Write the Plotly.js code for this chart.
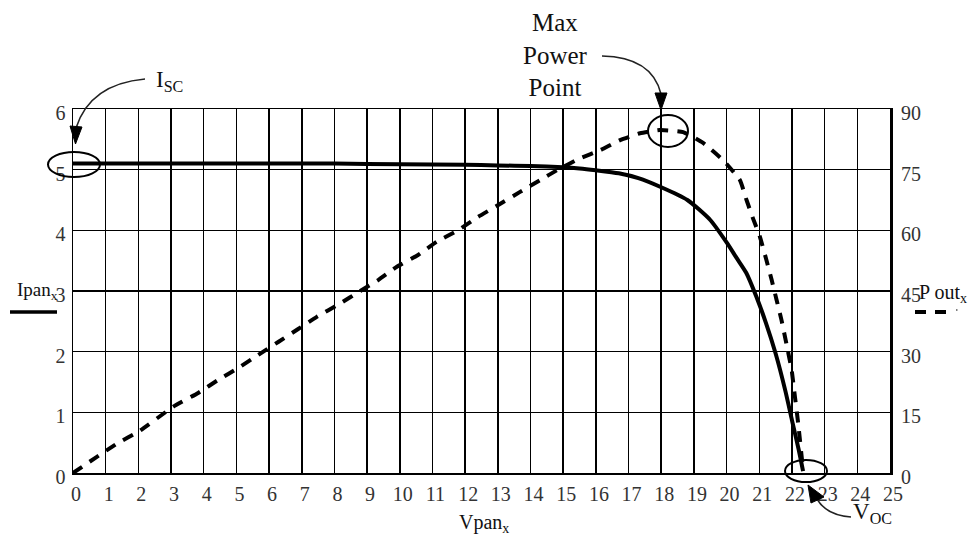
<!DOCTYPE html>
<html>
<head>
<meta charset="utf-8">
<script src="https://cdn.plot.ly/plotly-3.0.1.min.js"></script>
<style>html,body{margin:0;padding:0;background:#fff;}#chart{width:974px;height:541px;}</style>
</head>
<body>
<div id="chart"></div>
<script>
// Panel current (A) vs panel voltage (V)
const ipanV = [0, 2, 4, 6, 8, 10, 12, 13, 14, 15, 15.5, 16, 16.7, 17.3, 18, 18.8, 19.5, 20, 20.3, 20.6, 20.9, 21.2, 21.5, 21.8, 22.0, 22.2, 22.34];
const ipanI = [5.1, 5.1, 5.1, 5.1, 5.1, 5.09, 5.08, 5.07, 5.06, 5.04, 5.02, 4.99, 4.94, 4.86, 4.71, 4.5, 4.17, 3.8, 3.55, 3.3, 2.92, 2.48, 1.97, 1.35, 0.87, 0.4, 0.03];

// Panel output power (W) vs panel voltage (V)
const poutV = [0, 0.73, 1.35, 2.0, 3.07, 3.83, 4.44, 5.06, 5.67, 6.28, 6.89, 7.46, 8.17, 8.79, 9.34, 9.91, 10.56, 11.13, 11.78, 12.39, 13.0, 13.68, 14.29, 14.84, 15.51, 16.13, 16.74, 17.35, 17.96, 18.67, 19.28, 19.9, 20.41, 20.61, 20.81, 21.02, 21.22, 21.38, 21.53, 21.68, 21.83, 21.99, 22.09, 22.19, 22.34];
const poutP = [0, 4.0, 7.3, 10.2, 16.4, 19.8, 23.0, 26, 29.2, 32.4, 35.6, 38.6, 41.9, 45, 47.7, 51, 53.9, 57.2, 60, 63.3, 66.2, 69.5, 72.4, 75, 77.8, 79.8, 82.3, 84, 84.8, 84.3, 81.6, 77.3, 72.4, 67.5, 62.9, 58.4, 52.6, 47.7, 42.8, 37.8, 32, 25.5, 18.9, 12.3, 0.7];

// Axis ticks
const xTicks = [0,1,2,3,4,5,6,7,8,9,10,11,12,13,14,15,16,17,18,19,20,21,22,23,24,25];
const yTicks = [0,1,2,3,4,5,6];
const y2Ticks = [0,15,30,45,60,75,90];

// ---- layout helpers (pixel -> paper coordinates for decorations) ----
const PL = 73, PR = 890, PT = 109, PB = 473;
const px = x => (x - PL) / (PR - PL);
const py = y => (PB - y) / (PB - PT);
const pt = (x, y) => px(x).toFixed(5) + ',' + py(y).toFixed(5);

const serif = 'Liberation Serif';

const traces = [
  {x: ipanV, y: ipanI, type: 'scatter', mode: 'lines', yaxis: 'y',
   line: {color: '#000', width: 4, shape: 'spline', smoothing: 0.6}, name: 'Ipan', hoverinfo: 'skip'},
  {x: poutV, y: poutP, type: 'scatter', mode: 'lines', yaxis: 'y2',
   line: {color: '#000', width: 4, dash: '11px,9px', shape: 'spline', smoothing: 0.4}, name: 'Pout', hoverinfo: 'skip'}
];

function ellipse(cx, cy, rx, ry) {
  return {type: 'circle', xref: 'paper', yref: 'paper',
    x0: px(cx - rx), x1: px(cx + rx), y0: py(cy + ry), y1: py(cy - ry),
    line: {color: '#000', width: 2}};
}
function path(d, opts) {
  return Object.assign({type: 'path', xref: 'paper', yref: 'paper', path: d,
    line: {color: '#222', width: 1.6}}, opts || {});
}
function tri(a, b, c) {
  return path('M' + pt(a[0], a[1]) + ' L' + pt(b[0], b[1]) + ' L' + pt(c[0], c[1]) + ' Z',
    {fillcolor: '#000', line: {color: '#000', width: 1}});
}

const shapes = [
  ellipse(74, 164.5, 26, 12.5),
  ellipse(668, 131, 20, 16),
  ellipse(806, 471, 21, 11),
  // Isc arrow
  path('M' + pt(145, 79) + ' Q' + pt(90, 84) + ' ' + pt(76, 128)),
  tri([75.5, 144], [70, 126], [82, 127]),
  // MPP arrow
  path('M' + pt(602, 56) + ' Q' + pt(652, 57) + ' ' + pt(661, 94)),
  tri([661, 110], [655, 93], [667, 93]),
  // Voc arrow
  path('M' + pt(851, 517) + ' Q' + pt(826, 515) + ' ' + pt(817, 499)),
  tri([808, 485], [811, 503], [824, 497]),
  // legend marks
  {type: 'line', xref: 'paper', yref: 'paper', x0: px(10), x1: px(57), y0: py(312), y1: py(312),
   line: {color: '#000', width: 3.5}},
  {type: 'line', xref: 'paper', yref: 'paper', x0: px(915), x1: px(947), y0: py(312), y1: py(312),
   line: {color: '#000', width: 4, dash: '11px,9px'}},
  {type: 'line', xref: 'paper', yref: 'paper', x0: px(956), x1: px(957.5), y0: py(310), y1: py(310),
   line: {color: '#555', width: 1.5}}
];

function note(text, x, y, size, xanchor) {
  return {text: text, xref: 'paper', yref: 'paper', x: px(x), y: py(y),
    xanchor: xanchor || 'center', yanchor: 'middle', showarrow: false,
    font: {family: serif, size: size, color: '#111'}};
}

const annotations = [
  note('I<sub>SC</sub>', 154, 81, 23, 'left'),
  note('Max<br>Power<br>Point', 555, 55, 25, 'center'),
  note('V<sub>OC</sub>', 851, 513, 23, 'left'),
  note('Vpan<sub>x</sub>', 484, 523, 20, 'center'),
  note('Ipan<sub>x</sub>', 15, 291, 19, 'left'),
  note('P out<sub>x</sub>', 917, 293, 20, 'left')
];

const tickfont = {family: serif, size: 20, color: '#333'};

const layout = {
  width: 974, height: 541,
  margin: {l: PL, r: 974 - PR, t: PT, b: 541 - PB, pad: 0},
  paper_bgcolor: '#fff', plot_bgcolor: '#fff',
  showlegend: false,
  xaxis: {range: [0, 25], tickvals: xTicks, ticktext: xTicks.map(String),
    showgrid: true, gridcolor: '#000', gridwidth: 1.5,
    showline: true, linecolor: '#000', linewidth: 1.5, mirror: true,
    zeroline: false, ticks: '', tickfont: tickfont,
    ticklabelshift: 3, ticklabelstandoff: 2, fixedrange: true},
  yaxis: {range: [0, 6], tickvals: yTicks, ticktext: yTicks.map(String),
    showgrid: true, gridcolor: '#000', gridwidth: 1.5,
    showline: true, linecolor: '#000', linewidth: 1.5,
    zeroline: false, ticks: '', tickfont: tickfont,
    ticklabelshift: 4, ticklabelstandoff: 2, fixedrange: true},
  yaxis2: {range: [0, 90], tickvals: y2Ticks, ticktext: y2Ticks.map(String),
    overlaying: 'y', side: 'right', showgrid: false,
    showline: true, linecolor: '#000', linewidth: 3,
    zeroline: false, ticks: '', tickfont: tickfont,
    ticklabelshift: 4, ticklabelstandoff: 4, fixedrange: true},
  shapes: shapes,
  annotations: annotations
};

Plotly.newPlot('chart', traces, layout, {displayModeBar: false, staticPlot: true});
</script>
</body>
</html>
